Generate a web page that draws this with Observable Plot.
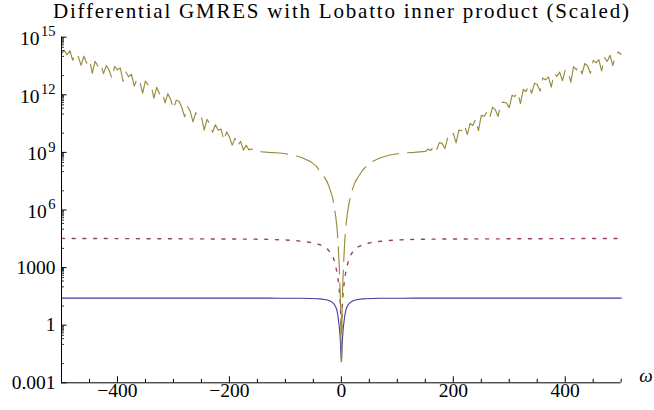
<!DOCTYPE html>
<html><head><meta charset="utf-8">
<script src="https://cdn.jsdelivr.net/npm/d3@7"></script>
<script src="https://cdn.jsdelivr.net/npm/@observablehq/plot@0.6"></script>
<style>
body{margin:0;background:#fff;}
#chart{position:relative;width:654px;height:410px;background:#fff;}
#title{position:relative;height:22px;line-height:22px;font-family:"Liberation Serif",serif;font-size:21px;white-space:nowrap;color:#000;}
#title span{position:absolute;left:53px;top:0;}
</style></head><body>
<div id="chart"><div id="title"><span></span></div></div>
<script>
const titleText = "Differential GMRES with Lobatto inner product (Scaled)";
const xLabel = "ω";

// sample grid for the smooth curves
const omegaSmooth = [-500,-400,-300,-200,-150,-130,-110,-100,-85,-70,-55,-45,-38,-30,-25,-20,-16,-13,-10,-8,-6,-4,-3,-2,-1,-0.5,
  0.5,1,2,3,4,6,8,10,13,16,20,25,30,38,45,55,70,85,100,110,130,150,200,300,400,500];
// log10 of values
const blueLog = [1.41,1.41,1.41,1.41,1.41,1.41,1.405,1.405,1.40,1.40,1.39,1.38,1.37,1.34,1.31,1.26,1.19,1.10,0.95,0.78,0.48,0.0,-0.3,-0.7,-1.3,-1.72,
  -1.72,-1.3,-0.7,-0.3,0.0,0.48,0.78,0.95,1.10,1.19,1.26,1.31,1.34,1.37,1.38,1.39,1.40,1.40,1.405,1.405,1.41,1.41,1.41,1.41,1.41,1.41];
const purpleLog = [4.52,4.51,4.50,4.49,4.48,4.47,4.45,4.44,4.41,4.37,4.31,4.25,4.19,4.08,3.97,3.80,3.62,3.40,3.05,2.78,2.42,1.95,1.62,1.18,0.45,-0.25,
  -0.25,0.45,1.18,1.62,1.95,2.42,2.78,3.05,3.40,3.62,3.80,3.97,4.08,4.19,4.25,4.31,4.37,4.41,4.44,4.45,4.47,4.48,4.49,4.50,4.51,4.52];

const oliveMidOmega = [-150,-130,-110,-100,-85,-70,-55,-45,-38,-30,-25,-20,-16,-13,-10,-8,-6,-4,-3,-2,-1,-0.5,
  0.5,1,2,3,4,6,8,10,13,16,20,25,30,38,45,55,70,85,100,110,130,150];
const oliveMidLog = [9.05,9.0,8.97,8.93,8.85,8.72,8.52,8.30,8.00,7.70,7.45,7.05,6.70,6.25,5.65,5.15,4.35,3.2,2.5,1.6,0.2,-1.9,
  -1.9,0.2,1.6,2.5,3.2,4.35,5.15,5.65,6.25,6.65,7.10,7.48,7.72,8.07,8.30,8.52,8.72,8.85,8.93,8.97,9.0,9.05];

const oliveLeftOmega = d3.range(-500, -150, 5);
const oliveLeftLog = [14.15,14.32,14.08,14.30,13.80,14.15,13.99,13.53,14.01,13.65,13.84,13.12,13.74,13.50,13.65,13.10,13.52,13.29,12.86,13.48,
  13.30,13.40,12.70,13.19,12.94,13.08,12.45,12.85,12.68,12.09,12.72,12.50,12.54,11.82,12.39,12.05,12.16,11.58,12.06,11.75,
  11.26,11.72,11.66,11.34,10.85,11.40,11.14,10.59,11.07,10.79,10.85,10.16,10.72,10.48,10.05,10.44,10.15,10.22,9.62,10.07,
  9.80,9.38,9.73,9.34,9.58,9.12,9.37,9.13,9.18,9.06];
const oliveRightOmega = d3.range(155, 505, 5);
const oliveRightLog = [9.17,9.10,9.34,9.11,9.51,9.47,9.20,9.76,9.70,10.00,9.50,10.16,10.13,10.42,9.93,10.51,10.40,10.72,10.13,10.93,
  10.88,11.09,10.78,11.35,11.23,10.87,11.59,11.62,11.57,11.33,11.97,11.91,12.13,11.54,12.28,12.17,12.50,12.07,12.60,12.54,
  12.19,12.88,12.78,12.93,12.40,13.11,12.96,13.18,12.73,13.30,13.22,12.66,13.47,13.30,13.50,13.09,13.63,13.50,13.12,13.79,
  13.66,13.83,13.25,13.95,13.74,14.06,13.52,14.08,14.23,14.10];

const xMajor = [-400,-200,0,200,400];
const xTickLabels = ["\u2212400","\u2212200","0","200","400"];
const xMinor = [-450,-350,-300,-250,-150,-100,-50,50,100,150,250,300,350,450,500];
const yTickValues = [1e15,1e12,1e9,1e6,1e3,1,1e-3];
const yTickBase = ["10","10","10","10","1000","1","0.001"];
const yTickExp = ["15","12","9","6","","",""];
const yMinor = [];
for (const e of [15,12,9,6,3,0]) {
  for (const m of [1,2,3,4,5,6,7,8,9]) yMinor.push(m * 10 ** (e - 1));
  yMinor.push(10 ** (e - 2));
}

const colBlue = "#3f3d99", colPurple = "#993d74", colOlive = "#998b3d";
const FONT = "Liberation Serif";

const blue = omegaSmooth.map((w, i) => ({w, v: 10 ** blueLog[i]}));
const purple = omegaSmooth.map((w, i) => ({w, v: 10 ** purpleLog[i]}));
const olive = [
  ...oliveLeftOmega.map((w, i) => ({w, v: 10 ** oliveLeftLog[i]})),
  ...oliveMidOmega.map((w, i) => ({w, v: 10 ** oliveMidLog[i]})),
  ...oliveRightOmega.map((w, i) => ({w, v: 10 ** oliveRightLog[i]}))
];

// title: stretch letter spacing so the line spans the same width as in the reference
const titleSpan = document.querySelector("#title span");
titleSpan.textContent = titleText;
const ctx = document.createElement("canvas").getContext("2d");
ctx.font = `21px "${FONT}"`;
const natural = ctx.measureText(titleText).width;
const targetW = 576;
titleSpan.style.letterSpacing = Math.max(0, (targetW - natural) / (titleText.length - 1)) + "px";

const W = 654, H = 388, mt = 14.7, mb = 27.7, ml = 61, mr = 33.3;
const ph = H - mt - mb, pw = W - ml - mr;
const LF = 19.5, EF = 14.5;

const yLabelMarks = yTickValues.flatMap((v, i) => {
  const exp = yTickExp[i];
  const out = [Plot.text([v], {y: d => d, text: () => yTickBase[i], frameAnchor: "left", textAnchor: "end",
    dx: exp ? -6 - exp.length * EF * 0.5 - 1.5 : -6, dy: exp ? 1.5 : 0, fontSize: LF, fontFamily: FONT, fill: "#000"})];
  if (exp) out.push(Plot.text([v], {y: d => d, text: () => exp, frameAnchor: "left", textAnchor: "end",
    dx: -6, dy: -5.5, fontSize: EF, fontFamily: FONT, fill: "#000"}));
  return out;
});

const chart = Plot.plot({
  width: W, height: H,
  marginTop: mt, marginBottom: mb, marginLeft: ml, marginRight: mr,
  style: {fontFamily: FONT, background: "#fff", overflow: "visible"},
  x: {domain: [-500, 500], axis: null},
  y: {type: "log", domain: [1e-3, 1e15], axis: null},
  marks: [
    Plot.line(blue, {x: "w", y: "v", stroke: colBlue, strokeWidth: 1.1}),
    Plot.line(purple, {x: "w", y: "v", stroke: colPurple, strokeWidth: 1.4, strokeDasharray: "3,7.7"}),
    Plot.line(olive, {x: "w", y: "v", stroke: colOlive, strokeWidth: 1.15, strokeDasharray: "27,9"}),
    Plot.ruleX([-500], {stroke: "#000", strokeWidth: 1}),
    Plot.ruleY([1e-3], {stroke: "#000", strokeWidth: 1}),
    Plot.ruleX(xMajor, {stroke: "#000", insetTop: ph - 6}),
    Plot.ruleX(xMinor, {stroke: "#000", insetTop: ph - 3.5}),
    Plot.ruleY(yTickValues, {stroke: "#000", insetRight: pw - 5.5}),
    Plot.ruleY(yMinor.filter(v => v >= 1e-3 && v <= 1e15), {stroke: "#000", strokeWidth: 0.8, insetRight: pw - 3}),
    Plot.text(xMajor, {x: d => d, text: (d, i) => xTickLabels[i], frameAnchor: "bottom", dy: 13.7, fontSize: LF, fontFamily: FONT, fill: "#000"}),
    ...yLabelMarks,
    Plot.text([xLabel], {frameAnchor: "bottom-right", textAnchor: "start", dx: 18, dy: -1, fontSize: 19, fontFamily: FONT, fontStyle: "italic", fill: "#000"})
  ]
});
document.getElementById("chart").appendChild(chart);
</script>
</body></html>
